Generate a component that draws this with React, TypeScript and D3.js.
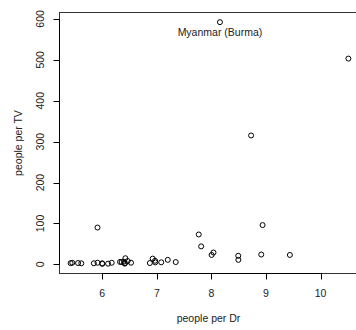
import React from "react";
import * as d3 from "d3";

// Countries with people per physician and people per television
const countries = [
  "Argentina", "Bangladesh", "Brazil", "Canada", "China", "Colombia", "Egypt",
  "Ethiopia", "France", "Germany", "India", "Indonesia", "Iran", "Italy", "Japan",
  "Kenya", "Korea, North", "Korea, South", "Mexico", "Morocco", "Myanmar (Burma)",
  "Pakistan", "Peru", "Philippines", "Poland", "Romania", "Russia", "South Africa",
  "Spain", "Sudan", "Taiwan", "Thailand", "Turkey", "Ukraine", "United Kingdom",
  "United States", "Venezuela", "Vietnam",
];
const peoplePerDr = [
  370, 6166, 684, 449, 643, 1551, 616, 36660, 403, 346, 2471, 7427, 2992, 233, 609,
  7615, 370, 1066, 600, 4873, 3485, 2364, 1016, 1062, 480, 559, 259, 1340, 275,
  12550, 965, 4883, 1189, 226, 611, 404, 576, 3096,
];
const peoplePerTV = [
  4, 315, 4, 1.7, 8, 5.6, 15, 503, 2.6, 2.6, 44, 24, 23, 3.8, 1.8, 96, 90, 4.9, 6.6,
  21, 592, 73, 14, 8.8, 3.9, 6, 3.2, 11, 2.6, 23, 3.2, 11, 5, 3, 3, 1.3, 5.6, 29,
];
const labelled = ["Myanmar (Burma)"];
const xTicks = [6, 7, 8, 9, 10];
const yTicks = [0, 100, 200, 300, 400, 500, 600];

const W = 356;
const H = 330;
const FONT = "'Liberation Sans', Arial, Helvetica, sans-serif";

// Extend a range by 4% on each side, as in base-graphics default axes
function padded(values: number[]): [number, number] {
  const [lo, hi] = d3.extent(values) as [number, number];
  const pad = (hi - lo) * 0.04;
  return [lo - pad, hi + pad];
}

export default function App() {
  const lx = peoplePerDr.map((v) => Math.log(v));
  const left = 59.5;
  const right = 359.5;
  const top = 12.5;
  const bottom = 273.5;

  const x = d3.scaleLinear().domain(padded(lx)).range([left, right]);
  const y = d3.scaleLinear().domain(padded(peoplePerTV)).range([bottom, top]);

  const pts = countries.map((c, i) => ({ c, x: x(lx[i]), y: y(peoplePerTV[i]) }));

  return (
    <div style={{ position: "absolute", left: 0, top: 0, width: W, height: H, background: "#fff" }}>
      <svg width={W} height={H} style={{ display: "block" }} fontFamily={FONT}>
        <rect x={0} y={0} width={W} height={H} fill="#fff" />
        {/* plot frame */}
        <rect x={left} y={top} width={right - left} height={bottom - top}
          fill="none" stroke="#333" strokeWidth={1} />
        {/* x axis */}
        <line x1={x(xTicks[0])} x2={x(xTicks[xTicks.length - 1])} y1={bottom} y2={bottom}
          stroke="#000" strokeWidth={1} />
        {xTicks.map((t) => (
          <g key={t}>
            <line x1={Math.round(x(t)) + 0.5} x2={Math.round(x(t)) + 0.5} y1={bottom} y2={bottom + 6}
              stroke="#000" strokeWidth={1} />
            <text x={x(t)} y={297} textAnchor="middle" fontSize={10.5} fill="#222">{t}</text>
          </g>
        ))}
        {/* y axis */}
        <line x1={left} x2={left} y1={y(yTicks[0])} y2={y(yTicks[yTicks.length - 1])}
          stroke="#000" strokeWidth={1} />
        {yTicks.map((t) => (
          <g key={t}>
            <line x1={left - 6} x2={left} y1={Math.round(y(t)) + 0.5} y2={Math.round(y(t)) + 0.5}
              stroke="#000" strokeWidth={1} />
            <text transform={`translate(44,${y(t)}) rotate(-90)`} textAnchor="middle"
              fontSize={10.5} fill="#222">{t}</text>
          </g>
        ))}
        {/* axis titles */}
        <text x={(left + right) / 2 - 1} y={322} textAnchor="middle" fontSize={10.5} fill="#222">
          people per Dr
        </text>
        <text transform={`translate(22,${(top + bottom) / 2}) rotate(-90)`} textAnchor="middle"
          fontSize={10.5} fill="#222">people per TV</text>
        {/* points */}
        {pts.map((p) => (
          <circle key={p.c} cx={p.x} cy={p.y} r={2.5} fill="none" stroke="#000" strokeWidth={1} />
        ))}
        {/* labels below selected points */}
        {pts.filter((p) => labelled.includes(p.c)).map((p) => (
          <text key={p.c} x={p.x} y={p.y + 14} textAnchor="middle" fontSize={10.5} fill="#222">
            {p.c}
          </text>
        ))}
      </svg>
    </div>
  );
}
